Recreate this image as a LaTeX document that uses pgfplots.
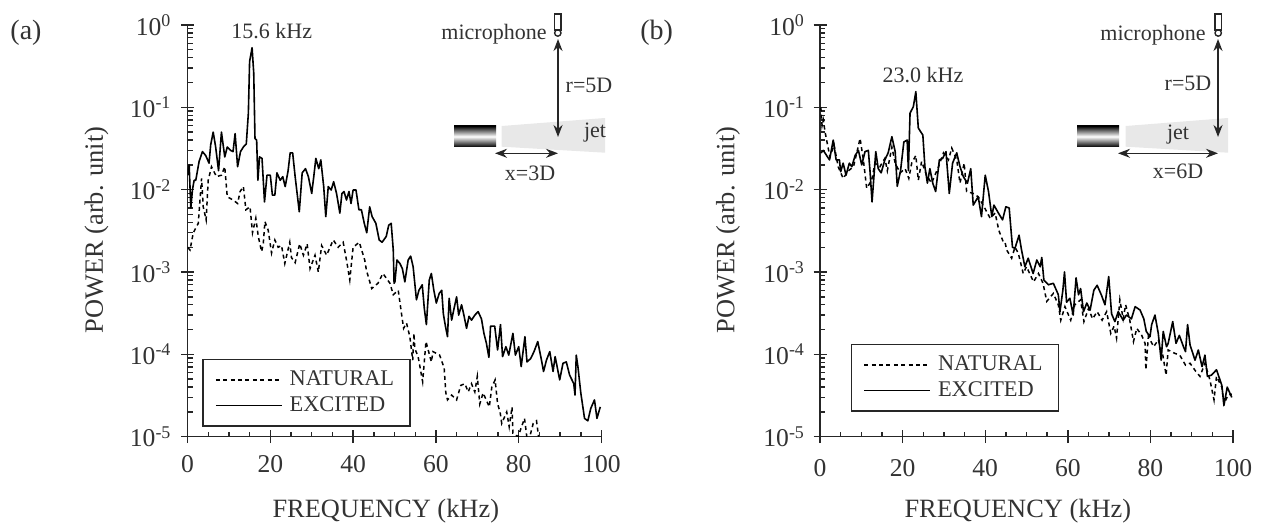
\documentclass[border=0pt]{standalone}
\usepackage{pgfplots}
\pgfplotsset{compat=1.18}
\usepackage{pgfplotstable}
\usepackage{fontspec}
\setmainfont{Liberation Serif}
\usetikzlibrary{arrows.meta}

\pgfplotstableread{
f P
0 2e-3
0.6 1.85e-3
1.4 3e-3
2.6 3.9e-3
3.4 1.37e-2
3.8 6.2e-3
4.5 4.3e-3
5 1.3e-2
5.8 1.9e-2
7 1.44e-2
8.2 1.5e-2
9 1.9e-2
9.6 8.2e-3
11 7.5e-3
12.1 6.8e-3
12.7 9.5e-3
13.5 1.09e-2
14.1 5.7e-3
15.1 6.2e-3
15.7 3e-3
16.5 4.5e-3
17.1 2.7e-3
17.9 1.77e-3
18.3 2.2e-3
18.7 4.1e-3
19.5 3.2e-3
20.3 1.7e-3
21.1 2.45e-3
21.9 2e-3
22.7 2.1e-3
23.5 1.27e-3
24.7 2.3e-3
25.1 1.5e-3
26 1.3e-3
27.1 2.2e-3
28 1.6e-3
28.9 2.2e-3
29.6 1.1e-3
30.8 1.6e-3
31.6 1e-3
32.4 2.1e-3
33.6 1.6e-3
35.2 2.45e-3
36.4 2e-3
37.6 2.3e-3
38.4 1.4e-3
39.2 8e-4
40 2e-3
41.5 2.3e-3
42.8 1.4e-3
43.2 1.06e-3
44.5 6.3e-4
46 7.3e-4
47.2 9.6e-4
48.9 7.3e-4
49.7 5.3e-4
50.9 6e-4
51.7 3.1e-4
52.2 2.07e-4
52.9 2.4e-4
53.7 1.64e-4
54.4 8.5e-5
54.7 1.8e-4
54.9 1.18e-4
55.7 9.4e-5
56.8 4.65e-5
57.6 1.43e-4
58.9 8.1e-5
59.3 1.08e-4
60.9 9.8e-5
62 6.8e-5
62.4 3.4e-5
62.8 2.8e-5
63.8 3.2e-5
65 2.8e-5
66 4.2e-5
67 4.4e-5
67.8 3.5e-5
68.6 4.4e-5
69.4 3.5e-5
70 5.4e-5
70.6 2.5e-5
71.4 3.4e-5
72.9 2.3e-5
73.5 4e-5
74.3 4.9e-5
74.9 2.5e-5
75.5 2e-5
75.9 1.45e-5
77.1 2e-5
77.7 1.32e-5
78.4 2.3e-5
78.6 1.1e-5
79.8 1e-5
80.4 1.2e-5
81.4 1.67e-5
82.2 8e-6
83.5 1.45e-5
84.3 1.56e-5
84.8 1e-5
85.2 8e-6
}\natA
\pgfplotstableread{
f P
0 1.5e-2
0.4 2e-2
0.8 6e-3
1.2 1e-2
1.6 1.3e-2
2 1.3e-2
2.8 2.2e-2
3.6 2.9e-2
4.4 2.6e-2
5.2 2.1e-2
5.6 3.5e-2
6.2 5e-2
6.8 3.3e-2
7.5 1.7e-2
8.2 5e-2
9 2.5e-2
9.6 3.3e-2
10.4 3e-2
11 2.9e-2
11.5 4.8e-2
12.1 1.9e-2
12.8 2.9e-2
13.5 3.3e-2
14.2 3.6e-2
14.7 8.5e-2
15 3.6e-1
15.6 5.3e-1
16 2.6e-1
16.3 4.2e-2
16.7 4e-2
17 1.3e-2
17.4 2.5e-2
18 2.4e-2
18.6 7.1e-3
19.2 1.5e-2
20 1.5e-2
20.5 8.6e-3
21.1 8.6e-3
21.6 1.6e-2
22.4 1.3e-2
23 1.44e-2
23.6 1.09e-2
24.3 1.7e-2
24.8 2.8e-2
25.4 2.8e-2
26 1.44e-2
27 5.4e-3
27.7 1.6e-2
28.5 1.8e-2
29.2 1.44e-2
30 9e-3
30.5 1.44e-2
31 2.4e-2
31.7 1.8e-2
32.2 2.3e-2
32.9 1.09e-2
33.4 4.7e-3
34 1.09e-2
34.7 9.9e-3
35.3 1.25e-2
36 9e-3
36.8 5.2e-3
37.3 9e-3
37.8 9.5e-3
38.4 7.5e-3
39 9.5e-3
39.5 6.8e-3
40 9.9e-3
40.7 9.9e-3
41.4 5.7e-3
42 5.7e-3
42.7 3.9e-3
43.3 3e-3
44 6.2e-3
44.6 4.7e-3
45.5 3.9e-3
46.3 2.45e-3
47 2.3e-3
48 2.7e-3
48.6 3.7e-3
49.2 3.9e-3
49.7 1.85e-3
49.9 7.3e-4
50.1 7.6e-4
50.6 1.4e-3
51.3 1.27e-3
51.9 1.1e-3
52.5 7.6e-4
53.3 1.4e-3
53.9 1.56e-3
54.5 1.16e-3
55.3 4.6e-4
55.9 6e-4
56.7 7e-4
57.2 3.6e-4
57.7 2.3e-4
58.4 8e-4
58.9 9.6e-4
59.5 6e-4
60.1 4.2e-4
60.8 5.5e-4
61.4 6e-4
61.8 3.1e-4
62.3 2.2e-4
62.8 1.64e-4
63.2 4.8e-4
63.8 2.6e-4
64.3 3.45e-4
65 5e-4
65.5 3e-4
66.2 4e-4
66.7 3.1e-4
67.4 2.07e-4
68 2.9e-4
68.6 2.6e-4
69.4 3e-4
70.2 3.3e-4
71 2.7e-4
71.6 1.8e-4
72.2 1.36e-4
72.8 9.2e-5
73.2 2.2e-4
74.2 2.2e-4
74.9 1.13e-4
75.6 2.3e-4
76.1 9.4e-5
76.9 1.24e-4
77.6 9.8e-5
78.6 1.8e-4
79.2 9.8e-5
80 1.24e-4
80.6 7.1e-5
81.5 1.64e-4
82 8.1e-5
82.9 8.9e-5
83.7 1.08e-4
84.6 1.43e-4
85.5 8.5e-5
86 6.2e-5
86.7 8.5e-5
87.5 1.08e-4
88.3 6.2e-5
88.8 9.4e-5
89.9 4.9e-5
90.7 7.8e-5
91.5 8.1e-5
92.3 5.6e-5
93.3 4.4e-5
93.6 3.2e-5
93.9 9.8e-5
94.3 7.1e-5
95 3.4e-5
95.9 1.67e-5
96.7 1.56e-5
97.4 2.2e-5
98.3 2.8e-5
98.9 1.67e-5
99.7 2.3e-5
}\excA
\pgfplotstableread{
f P
0.2 1e-1
0.5 6e-2
0.8 7e-2
1.2 5.1e-2
1.6 4e-2
2.4 2.5e-2
3.4 3.5e-2
4.4 1.9e-2
5.6 1.37e-2
6.9 1.7e-2
8.1 1.9e-2
8.9 2.8e-2
9.7 4.2e-2
10.5 2.3e-2
11.3 1.04e-2
12.5 1.3e-2
13.3 2.1e-2
14.5 1.9e-2
15.7 2.4e-2
16.3 1.7e-2
17.4 3.3e-2
18.2 2.1e-2
19.4 1.6e-2
20.6 1.8e-2
21.5 1.37e-2
22.2 2.1e-2
23.2 2.6e-2
23.8 1.3e-2
24.6 2.2e-2
25.8 1.5e-2
27 1.2e-2
28.7 1.9e-2
29.9 2.8e-2
31.1 2.3e-2
31.9 3.2e-2
33.1 2.3e-2
33.9 1.2e-2
34.9 2.1e-2
35.5 9.5e-3
37.1 9e-3
38.3 8.2e-3
39.5 6.5e-3
41.2 4.5e-3
42.4 5.2e-3
43.3 3.2e-3
44.4 2.3e-3
44.8 2.3e-3
45.2 1.85e-3
46.4 1.47e-3
47.2 2e-3
48 1.7e-3
49.2 9.6e-4
50 1.16e-3
51.7 7.6e-4
52.9 9.6e-4
54 7.3e-4
54.9 4.4e-4
56.5 5.5e-4
57.7 4e-4
58.3 2.6e-4
59.3 3.8e-4
60.7 2.6e-4
61.7 4e-4
63.1 4.6e-4
63.9 2.5e-4
65 3.6e-4
66 2.7e-4
67.1 3.3e-4
68.3 2.6e-4
69.4 3.3e-4
70.4 1.8e-4
71.2 2.2e-4
71.8 1.57e-4
72.6 4.6e-4
73.4 2.7e-4
74 4e-4
75 2.6e-4
75.9 1.43e-4
76.7 2.07e-4
77.9 1.7e-4
78.7 1.36e-4
78.9 6.5e-5
79.5 1.64e-4
80.8 1.24e-4
81.9 1.5e-4
83 9.8e-5
83.8 5.6e-5
84.3 1.13e-4
85.9 1.03e-4
87.1 9.8e-5
88.5 7.4e-5
89.6 7.8e-5
91 6.2e-5
92 5.4e-5
93.2 7.8e-5
94.4 4.9e-5
95.4 2.8e-5
96 5.4e-5
97.3 4e-5
97.8 2.5e-5
98.8 3.2e-5
99.7 3.3e-5
}\natB
\pgfplotstableread{
f P
0.2 2.8e-2
0.8 3e-2
1.6 2.6e-2
2.3 2.3e-2
3.2 4e-2
3.9 2.3e-2
4.7 2.3e-2
5 1.65e-2
5.6 2.1e-2
6.3 1.5e-2
7.1 2.1e-2
7.7 1.9e-2
8.5 2.6e-2
9.3 3e-2
10.1 2e-2
10.9 2.9e-2
11.7 3e-2
12.1 1.7e-2
12.6 7.1e-3
13.5 2.9e-2
14.1 1.8e-2
14.8 1.6e-2
15.7 2.3e-2
16.5 2.8e-2
17.4 4.4e-2
18.2 2.9e-2
18.7 1.1e-2
19.5 1.7e-2
20.3 3.8e-2
21.1 4e-2
21.4 1.7e-2
21.8 8.5e-2
22.6 1.02e-1
23.2 1.55e-1
23.8 5.6e-2
24.9 4.6e-2
25.4 1.9e-2
26 1.2e-2
26.6 1.8e-2
27.3 1.2e-2
28 9.5e-3
28.9 2.3e-2
29.7 2.4e-2
30.5 2.9e-2
31.3 9e-3
32.1 2.1e-2
33.1 2.8e-2
33.9 1.9e-2
34.7 1.44e-2
35.7 1.2e-2
36.5 1.8e-2
37.1 6.5e-3
38.3 8.2e-3
39.1 4.7e-3
40 1.5e-2
40.8 9.5e-3
41.6 4.7e-3
42.1 6.5e-3
43.2 5.2e-3
44.2 4.3e-3
45 6.2e-3
45.8 6e-3
46.6 2e-3
47.2 1.94e-3
48.2 2.8e-3
48.8 1.85e-3
49.6 1.16e-3
50.4 1.47e-3
51.6 9.6e-4
52.5 1.4e-3
53.3 1.16e-3
53.7 1.5e-3
54.2 8e-4
55.3 7e-4
56.5 7.3e-4
57.7 5.3e-4
58.1 3.3e-4
58.8 6e-4
59.2 1e-3
59.7 4.3e-4
60.5 4.8e-4
61.3 3e-4
62 8.5e-4
62.6 5.3e-4
63.1 6.3e-4
63.8 3.3e-4
64.6 4.2e-4
65.4 3.45e-4
66.3 6e-4
67.1 6.9e-4
68.1 5.3e-4
69 4e-4
69.9 8.8e-4
70.6 3.1e-4
71.4 2.5e-4
72.2 3.3e-4
73.4 2.6e-4
74.2 3e-4
75.4 2.7e-4
76.3 3.8e-4
77.5 3.45e-4
78.4 2.7e-4
79 1.9e-4
79.9 1.64e-4
80.3 2.3e-4
81.1 3e-4
81.9 1.8e-4
82.6 8.5e-5
83.1 1.9e-4
83.9 1.24e-4
84.3 1.36e-4
85.4 2.5e-4
86.2 1.36e-4
87 1.7e-4
88 1.24e-4
88.5 1.08e-4
89 2.3e-4
89.6 1.3e-4
90.8 8.5e-5
91.6 1.13e-4
92.5 7.1e-5
93.2 9.8e-5
93.8 5.4e-5
94.8 5.6e-5
96 6.5e-5
97.3 4.2e-5
97.8 2.4e-5
98.6 4e-5
99.7 3e-5
}\excB

\begin{document}
\begin{tikzpicture}
\useasboundingbox (0pt,0pt) rectangle (630.5pt,262pt);
\begin{axis}[scale only axis, width=207pt, height=205.85pt,
    at={(93.75pt,43.65pt)}, anchor=south west,
    ymode=log, xmin=0, xmax=100, ymin=1e-5, ymax=1,
    axis lines=left, axis line style={-, line width=.75pt, black!85},
    xtick={0,20,40,60,80,100}, minor xtick={5,10,15,25,30,35,45,50,55,65,70,75,85,90,95},
    ytick={1e-5,1e-4,1e-3,1e-2,1e-1,1},
    yticklabels={10\textsuperscript{-5},10\textsuperscript{-4},10\textsuperscript{-3},10\textsuperscript{-2},10\textsuperscript{-1},10\textsuperscript{0}},
    tick align=inside, major tick length=3.25pt, minor tick length=2.5pt,
    extra x ticks={0,20,40,60,80,100}, extra x tick labels={},
    extra y ticks={1e-5,1e-4,1e-3,1e-2,1e-1,1}, extra y tick labels={},
    extra tick style={tick align=outside, major tick length=3.25pt},
    tick style={line width=.7pt, black!85},
    /pgf/number format/assume math mode=true,
    tick label style={font=\fontsize{12.8}{14}\selectfont, text=black!80},
    xticklabel style={yshift=-6pt}, yticklabel style={xshift=-4.5pt},
    xlabel={FREQUENCY (kHz)}, ylabel={POWER (arb. unit)},
    label style={font=\fontsize{13.2}{15}\selectfont, text=black!80},
    xlabel style={at={(axis description cs:.479,-.18)}, anchor=center},
    ylabel style={at={(axis description cs:-.22,.502)}, anchor=center},
    legend cell align=left,
    legend image code/.code={\draw[#1] (0pt,0pt) -- (33pt,0pt); \path (34.5pt,0pt);},
    legend style={font=\fontsize{11.2}{12.15}\selectfont, text=black!80, draw=black!85, line width=.7pt, anchor=south west,
      inner xsep=6pt, inner ysep=3.7pt, at={(.0357,.0243)}}]
\addplot[black, line width=.75pt, dash pattern=on 2pt off 1.7pt] table[x=f,y=P] {\natA};
\addlegendentry{NATURAL}
\addplot[black, line width=.8pt, line join=round] table[x=f,y=P] {\excA};
\addlegendentry{EXCITED}
\end{axis}
\begin{axis}[scale only axis, width=206.5pt, height=205.85pt,
    at={(410pt,43.65pt)}, anchor=south west,
    ymode=log, xmin=0, xmax=100, ymin=1e-5, ymax=1,
    axis lines=left, axis line style={-, line width=.75pt, black!85},
    xtick={0,20,40,60,80,100}, minor xtick={5,10,15,25,30,35,45,50,55,65,70,75,85,90,95},
    ytick={1e-5,1e-4,1e-3,1e-2,1e-1,1},
    yticklabels={10\textsuperscript{-5},10\textsuperscript{-4},10\textsuperscript{-3},10\textsuperscript{-2},10\textsuperscript{-1},10\textsuperscript{0}},
    tick align=inside, major tick length=3.25pt, minor tick length=2.5pt,
    extra x ticks={0,20,40,60,80,100}, extra x tick labels={},
    extra y ticks={1e-5,1e-4,1e-3,1e-2,1e-1,1}, extra y tick labels={},
    extra tick style={tick align=outside, major tick length=3.25pt},
    tick style={line width=.7pt, black!85},
    /pgf/number format/assume math mode=true,
    tick label style={font=\fontsize{12.8}{14}\selectfont, text=black!80},
    xticklabel style={yshift=-8pt}, yticklabel style={xshift=-4pt},
    xlabel={FREQUENCY (kHz)}, ylabel={POWER (arb. unit)},
    label style={font=\fontsize{13.2}{15}\selectfont, text=black!80},
    xlabel style={at={(axis description cs:.479,-.18)}, anchor=center},
    ylabel style={at={(axis description cs:-.223,.502)}, anchor=center},
    legend cell align=left,
    legend image code/.code={\draw[#1] (0pt,0pt) -- (33pt,0pt); \path (34.5pt,0pt);},
    legend style={font=\fontsize{11.2}{12.15}\selectfont, text=black!80, draw=black!85, line width=.7pt, anchor=south west,
      inner xsep=6pt, inner ysep=3.7pt, at={(.0743,.0607)}}]
\addplot[black, line width=.75pt, dash pattern=on 2pt off 1.7pt] table[x=f,y=P] {\natB};
\addlegendentry{NATURAL}
\addplot[black, line width=.8pt, line join=round] table[x=f,y=P] {\excB};
\addlegendentry{EXCITED}
\end{axis}

\begin{scope}[x=.5pt,y=-.5pt,yshift=262pt,
  every node/.style={inner sep=0pt, font=\fontsize{11}{12}\selectfont, text=black!80}]
  \node[font=\fontsize{14}{15}\selectfont] at (26,33) {(a)};
  \node[font=\fontsize{14}{15}\selectfont] at (656.7,33) {(b)};
  % panel a sketch
  \fill[black!9] (501.7,126) -- (605,118) -- (605,152.7) -- (501.7,146.7) -- cycle;
  \shade[top color=black,bottom color=black,middle color=white] (454,126) rectangle (496,147);
  \draw[black!85,line width=.7pt] (554.5,14) rectangle (561,30);
  \draw[black!85,line width=.7pt] (557.8,33) circle (3.2);
  \draw[{Stealth[length=6pt,width=4.5pt]}-{Stealth[length=6pt,width=4.5pt]},line width=.8pt,black!85] (558,39) -- (558,137);
  \draw[{Stealth[length=6pt,width=4.5pt]}-{Stealth[length=6pt,width=4.5pt]},line width=.7pt,black!85] (495,153.3) -- (558,153.3);
  \node at (271.7,31) {15.6 kHz};
  \node at (494,34) {microphone};
  \node at (589,85) {r=5D};
  \node at (595,133) {jet};
  \node at (530,173) {x=3D};
  % panel b sketch
  \fill[black!9] (1125.7,126) -- (1228,118) -- (1228,152.7) -- (1125.7,146.7) -- cycle;
  \shade[top color=black,bottom color=black,middle color=white] (1077,126) rectangle (1119,147);
  \draw[black!85,line width=.7pt] (1215,14) rectangle (1221.5,30);
  \draw[black!85,line width=.7pt] (1218.2,33) circle (3.2);
  \draw[{Stealth[length=6pt,width=4.5pt]}-{Stealth[length=6pt,width=4.5pt]},line width=.8pt,black!85] (1218,39) -- (1218,137);
  \draw[{Stealth[length=6pt,width=4.5pt]}-{Stealth[length=6pt,width=4.5pt]},line width=.7pt,black!85] (1118,153.3) -- (1218,153.3);
  \node at (923,75) {23.0 kHz};
  \node at (1153,35) {microphone};
  \node at (1188,83) {r=5D};
  \node at (1178,135) {jet};
  \node at (1178,171) {x=6D};
\end{scope}
\end{tikzpicture}
\end{document}
